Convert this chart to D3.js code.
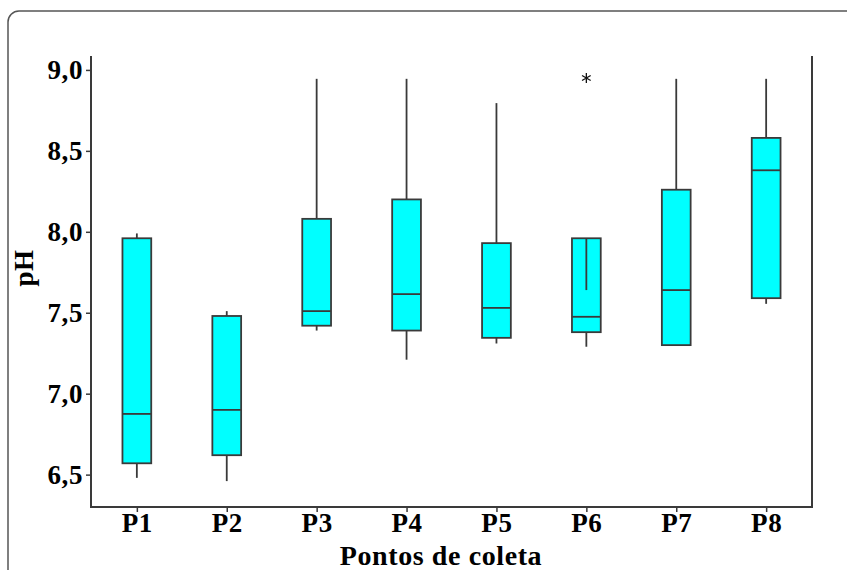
<!DOCTYPE html>
<html>
<head>
<meta charset="utf-8">
<script src="https://cdn.jsdelivr.net/npm/d3@7"></script>
<style>
  body { margin: 0; background: #fff; }
  .lbl { font-family: "Liberation Serif", "Times New Roman", serif; font-weight: bold; font-size: 27px; fill: #000; letter-spacing: 0.6px; }
</style>
</head>
<body>
<div id="chart"></div>
<script>
// pH by sampling point (box plot values)
var categories = ['P1', 'P2', 'P3', 'P4', 'P5', 'P6', 'P7', 'P8'],
    whiskerLow = [6.48, 6.46, 7.39, 7.21, 7.31, 7.29, 7.30, 7.555],
    q1 = [6.57, 6.62, 7.42, 7.39, 7.345, 7.38, 7.30, 7.59],
    median = [6.875, 6.90, 7.51, 7.615, 7.53, 7.475, 7.64, 8.38],
    q3 = [7.96, 7.48, 8.08, 8.20, 7.93, 7.96, 8.26, 8.58],
    whiskerHigh = [7.99, 7.51, 8.945, 8.945, 8.795, 7.64, 8.945, 8.945],
    outliers = [[], [], [], [], [], [8.95], [], []],
    yTicks = [6.5, 7.0, 7.5, 8.0, 8.5, 9.0];

var width = 847,
    height = 570,
    plotLeft = 91,
    plotRight = 812,
    plotTop = 56,
    plotBottom = 507,
    lineCol = '#3a3a3a';

var svg = d3.select('#chart').append('svg')
    .attr('width', width)
    .attr('height', height);

// outer rounded frame, cut off at right and bottom
svg.append('rect')
    .attr('x', 8).attr('y', 11)
    .attr('width', 900).attr('height', 620)
    .attr('rx', 11)
    .attr('fill', 'none')
    .attr('stroke', '#555')
    .attr('stroke-width', 1.5);

var x = d3.scalePoint()
    .domain(categories)
    .range([plotLeft, plotRight])
    .padding(0.51);

var y = d3.scaleLinear()
    .domain([6.3, 9.086])
    .range([plotBottom, plotTop]);

var boxW = x.step() * 0.32;

// axes
var yAxis = svg.append('g')
    .attr('transform', 'translate(' + plotLeft + ',0)')
    .call(d3.axisLeft(y).tickValues(yTicks).tickSize(5).tickPadding(3)
        .tickFormat(function(d) { return d3.format('.1f')(d).replace('.', ','); }));

var xAxis = svg.append('g')
    .attr('transform', 'translate(0,' + plotBottom + ')')
    .call(d3.axisBottom(x).tickSize(5).tickPadding(1));

[yAxis, xAxis].forEach(function(a) {
    a.attr('font-size', null).attr('font-family', null);
    a.select('.domain').remove();
    a.selectAll('line').attr('stroke', lineCol).attr('stroke-width', 1.5);
    a.selectAll('text').attr('class', 'lbl');
});

// frame: left, bottom, right (no top line)
svg.append('path')
    .attr('d', 'M' + plotLeft + ',' + plotTop + 'V' + plotBottom + 'H' + plotRight + 'V' + plotTop)
    .attr('fill', 'none')
    .attr('stroke', lineCol)
    .attr('stroke-width', 2);

var boxes = svg.append('g').selectAll('g')
    .data(categories)
    .enter().append('g');

boxes.append('rect')
    .attr('x', function(d) { return x(d) - boxW / 2; })
    .attr('y', function(d, i) { return y(q3[i]); })
    .attr('width', boxW)
    .attr('height', function(d, i) { return y(q1[i]) - y(q3[i]); })
    .attr('fill', '#00ffff')
    .attr('stroke', lineCol)
    .attr('stroke-width', 1.8);

boxes.append('line')
    .attr('x1', function(d) { return x(d) - boxW / 2; })
    .attr('x2', function(d) { return x(d) + boxW / 2; })
    .attr('y1', function(d, i) { return y(median[i]); })
    .attr('y2', function(d, i) { return y(median[i]); })
    .attr('stroke', lineCol)
    .attr('stroke-width', 1.8);

// upper whisker
boxes.append('line')
    .attr('x1', function(d) { return x(d); })
    .attr('x2', function(d) { return x(d); })
    .attr('y1', function(d, i) { return y(q3[i]); })
    .attr('y2', function(d, i) { return y(whiskerHigh[i]); })
    .attr('stroke', lineCol)
    .attr('stroke-width', 1.8);

// lower whisker
boxes.append('line')
    .attr('x1', function(d) { return x(d); })
    .attr('x2', function(d) { return x(d); })
    .attr('y1', function(d, i) { return y(q1[i]); })
    .attr('y2', function(d, i) { return y(whiskerLow[i]); })
    .attr('stroke', lineCol)
    .attr('stroke-width', 1.8);

// outliers
boxes.each(function(d, i) {
    d3.select(this).selectAll('path.out')
        .data(outliers[i])
        .enter().append('path')
        .attr('class', 'out')
        .attr('d', d3.symbol(d3.symbolAsterisk).size(70))
        .attr('transform', function(v) { return 'translate(' + x(d) + ',' + y(v) + ')'; })
        .attr('fill', 'none')
        .attr('stroke', '#111')
        .attr('stroke-width', 1.3);
});

// axis titles
svg.append('text')
    .attr('class', 'lbl')
    .attr('x', 441)
    .attr('y', 565)
    .attr('text-anchor', 'middle')
    .style('font-size', '28px')
    .text('Pontos de coleta');

svg.append('text')
    .attr('class', 'lbl')
    .attr('transform', 'translate(33,268) rotate(-90)')
    .attr('text-anchor', 'middle')
    .text('pH');
</script>
</body>
</html>
